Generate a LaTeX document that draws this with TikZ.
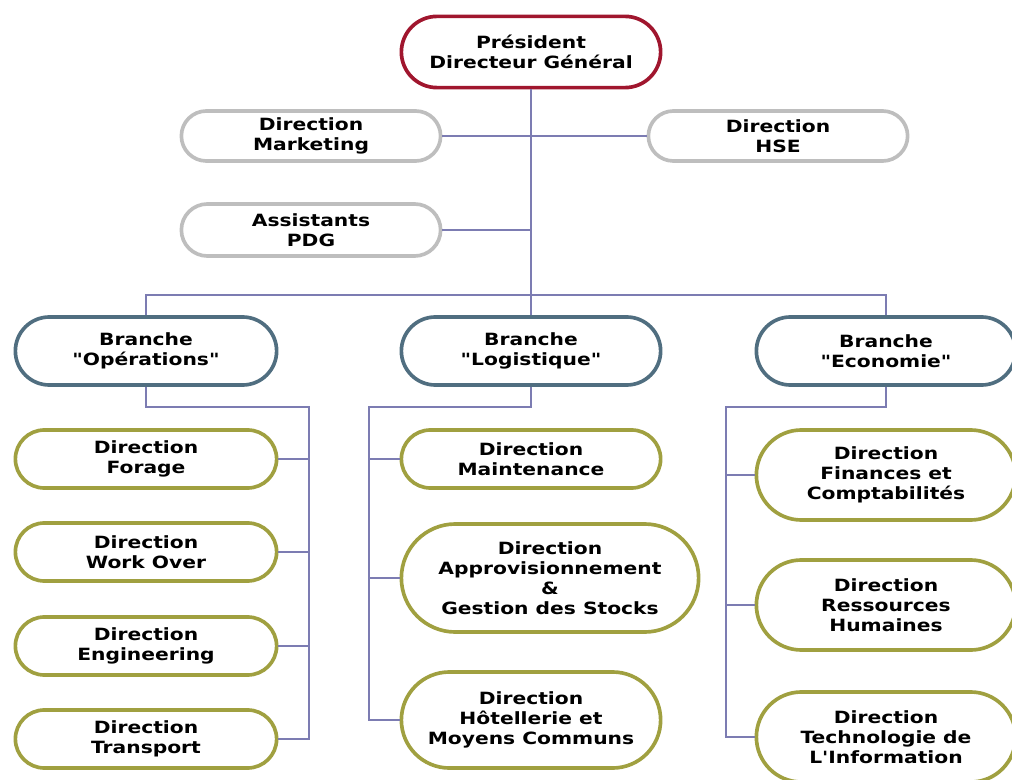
\documentclass[tikz,border=0pt]{standalone}
\usepackage{fontspec}
\newfontfamily\orgfont[FakeStretch=1.2]{DejaVu Sans}
\usetikzlibrary{positioning,shapes.misc}
\definecolor{pdgred}{HTML}{A0162E}
\definecolor{staffgray}{HTML}{BEBEBE}
\definecolor{branchblue}{HTML}{506E80}
\definecolor{dirolive}{HTML}{A0A040}
\definecolor{linkblue}{HTML}{7C7CB2}

\begin{document}
\begin{tikzpicture}[x=0.025cm, y=-0.025cm,
    every node/.style={font=\orgfont\bfseries\fontsize{12pt}{14.2pt}\selectfont, align=center},
    unit/.style={draw, rounded rectangle, line width=2.6pt, fill=white, inner sep=1pt,
      minimum width=6.55cm, minimum height=1.45cm},
    pdgbox/.style={unit, draw=pdgred, minimum height=1.78cm},
    staff/.style={unit, draw=staffgray, minimum height=1.25cm},
    branch/.style={unit, draw=branchblue, minimum width=6.6cm, minimum height=1.7cm},
    dir/.style={unit, draw=dirolive},
    link/.style={draw=linkblue, line width=0.9pt}]
  \useasboundingbox (0,0) rectangle (1012,780);
  \clip (0,0) rectangle (1012,780);
  % top
  \node[pdgbox] (pdg) at (531,52) {Président\\Directeur Général};
  \node[staff] (mkt) at (311,136) {Direction\\Marketing};
  \node[staff] (hse) at (778,136) {Direction\\HSE};
  \node[staff, minimum height=1.3cm] (asst) at (311,230) {Assistants\\PDG};
  % branches
  \node[branch] (ops) at (146,351) {Branche\\"Opérations"};
  \node[branch, minimum width=6.55cm] (log) at (531,351) {Branche\\"Logistique"};
  \node[branch, minimum width=6.55cm] (eco) at (886,351) {Branche\\"Economie"};
  % operations
  \node[dir, minimum width=6.6cm] (forage) at (146,459) {Direction\\Forage};
  \node[dir, minimum width=6.6cm] (workover) at (146,552) {Direction\\Work Over};
  \node[dir, minimum width=6.6cm] (eng) at (146,646) {Direction\\Engineering};
  \node[dir, minimum width=6.6cm] (trans) at (146,739) {Direction\\Transport};
  % logistique
  \node[dir] (maint) at (531,459) {Direction\\Maintenance};
  \node[dir, minimum width=7.5cm, minimum height=2.7cm] (appro) at (550,578)
    {Direction\\Approvisionnement\\\&\\Gestion des Stocks};
  \node[dir, minimum height=2.4cm] (hotel) at (531,720)
    {Direction\\Hôtellerie et\\Moyens Communs};
  % economie
  \node[dir, minimum height=2.25cm] (fin) at (886,475) {Direction\\Finances et\\Comptabilités};
  \node[dir, minimum height=2.25cm] (rh) at (886,605) {Direction\\Ressources\\Humaines};
  \node[dir, minimum height=2.25cm] (ti) at (886,737) {Direction\\Technologie de\\L'Information};

  \coordinate (bus) at (531,295);
  \coordinate (opsbus) at (309,407);
  \coordinate (logbus) at (369,407);
  \coordinate (ecobus) at (726,407);

  \draw[link] (pdg.south) -- (bus);
  \draw[link] (mkt.east) -- (mkt.east -| bus);
  \draw[link] (hse.west) -- (hse.west -| bus);
  \draw[link] (asst.east) -- (asst.east -| bus);
  \draw[link] (ops.north) |- (bus) -| (eco.north);
  \draw[link] (bus) -- (log.north);
  % sub-units
  \draw[link] (ops.south) |- (opsbus) -- (opsbus |- trans.east) -- (trans.east);
  \foreach \u in {forage, workover, eng}
    \draw[link] (\u.east) -- (\u.east -| opsbus);
  \draw[link] (log.south) |- (logbus) -- (logbus |- hotel.west) -- (hotel.west);
  \foreach \u in {maint, appro}
    \draw[link] (\u.west) -- (\u.west -| logbus);
  \draw[link] (eco.south) |- (ecobus) -- (ecobus |- ti.west) -- (ti.west);
  \foreach \u in {fin, rh}
    \draw[link] (\u.west) -- (\u.west -| ecobus);
\end{tikzpicture}
\end{document}
